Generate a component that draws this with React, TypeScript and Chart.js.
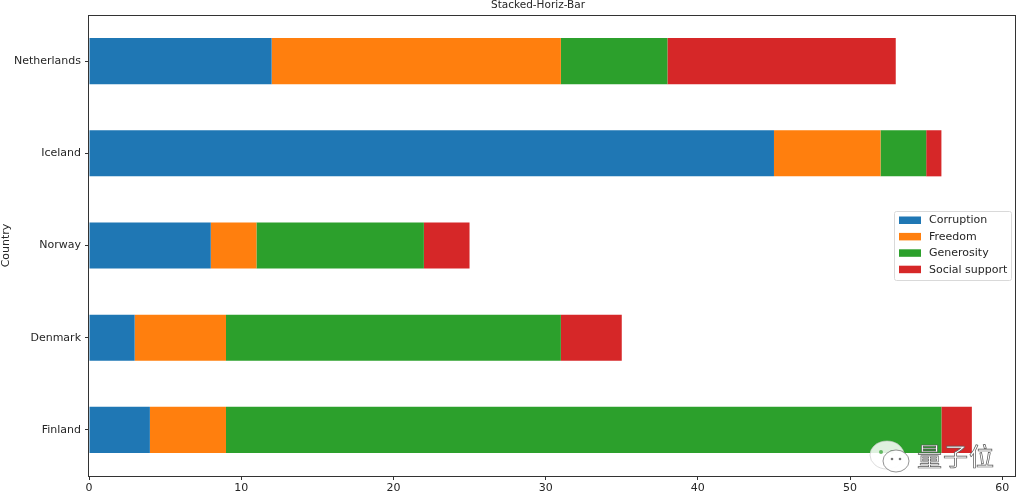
import React, { useEffect, useRef } from "react";
import { Chart, registerables } from "chart.js";

Chart.register(...registerables);

const countries = ["Netherlands", "Iceland", "Norway", "Denmark", "Finland"];
const corruption = [12, 45, 8, 3, 4];
const freedom = [19, 7, 3, 6, 5];
const generosity = [7, 3, 11, 22, 47];
const socialSupport = [15, 1, 3, 4, 2];
const seriesNames = ["Corruption", "Freedom", "Generosity", "Social support"];
const xTicks = [0, 10, 20, 30, 40, 50, 60];
const xMax = 60.9;
const chartTitle = "Stacked-Horiz-Bar";
const yTitle = "Country";

const colors = ["#1f77b4", "#ff7f0e", "#2ca02c", "#d62728"];
const FONT = "'DejaVu Sans', sans-serif";

const framePlugin = {
  id: "frameAndLegend",
  afterDraw(chart: any) {
    const { ctx, chartArea } = chart;
    const { left, right, top, bottom } = chartArea;
    ctx.save();
    // spines
    ctx.strokeStyle = "#333";
    ctx.lineWidth = 1;
    ctx.strokeRect(Math.round(left) - 0.5, Math.round(top) + 0.5, Math.round(right - left), Math.round(bottom - top));
    // title
    ctx.fillStyle = "#262626";
    ctx.font = `10.5px ${FONT}`;
    ctx.textAlign = "center";
    ctx.textBaseline = "alphabetic";
    ctx.fillText(chartTitle, 538, 8);
    // legend
    const bx = 894, by = 211, bw = 117, bh = 69;
    ctx.fillStyle = "rgba(255,255,255,0.85)";
    ctx.strokeStyle = "#d9d9d9";
    ctx.lineWidth = 1;
    ctx.beginPath();
    if ((ctx as any).roundRect) (ctx as any).roundRect(bx + 0.5, by + 0.5, bw, bh, 2);
    else ctx.rect(bx + 0.5, by + 0.5, bw, bh);
    ctx.fill();
    ctx.stroke();
    ctx.font = `11px ${FONT}`;
    ctx.textAlign = "left";
    ctx.textBaseline = "middle";
    chart.data.datasets.forEach((ds: any, i: number) => {
      const cy = 220 + i * 16.4;
      ctx.fillStyle = ds.backgroundColor;
      ctx.fillRect(899, cy - 3.5, 22, 7.5);
      ctx.fillStyle = "#262626";
      ctx.fillText(ds.label, 929, cy + 0.5);
    });
    ctx.restore();
  },
};

export default function App() {
  const ref = useRef<HTMLCanvasElement | null>(null);
  useEffect(() => {
    if (!ref.current) return;
    const values = [corruption, freedom, generosity, socialSupport];
    const chart = new Chart(ref.current, {
      type: "bar",
      data: {
        labels: countries,
        datasets: values.map((v, i) => ({
          label: seriesNames[i],
          data: v,
          backgroundColor: colors[i],
          borderWidth: 0,
          barPercentage: 0.5,
          categoryPercentage: 1.0,
        })),
      },
      options: {
        indexAxis: "y",
        animation: false,
        responsive: true,
        maintainAspectRatio: false,
        layout: { padding: { top: 15, right: 8, left: 0, bottom: 0 } },
        plugins: { legend: { display: false }, title: { display: false }, tooltip: { enabled: false } },
        scales: {
          y: {
            type: "category",
            stacked: true,
            offset: true,
            grid: { drawOnChartArea: false, drawTicks: true, tickLength: 4, color: "#333", offset: false },
            border: { display: false },
            ticks: { color: "#262626", font: { family: FONT, size: 11 }, padding: 4 },
            title: { display: true, text: yTitle, color: "#262626", font: { family: FONT, size: 11 }, padding: { top: 0, bottom: 0 } },
            afterFit: (s: any) => { s.width = 89; },
          },
          x: {
            type: "linear",
            stacked: true,
            min: 0,
            max: xMax,
            grid: { drawOnChartArea: false, drawTicks: true, tickLength: 4, color: "#333" },
            border: { display: false },
            ticks: { color: "#262626", font: { family: FONT, size: 11 }, padding: 2, maxRotation: 0 },
            afterBuildTicks: (s: any) => { s.ticks = xTicks.map((v) => ({ value: v })); },
            afterFit: (s: any) => { s.height = 27; },
          },
        },
      } as any,
      plugins: [framePlugin],
    });
    return () => chart.destroy();
  }, []);
  return (
    <div style={{ position: "absolute", left: 0, top: 0, width: 1024, height: 503, background: "#fff" }}>
      <canvas ref={ref} />
      <svg
        width={45}
        height={36}
        style={{ position: "absolute", left: 867, top: 440, pointerEvents: "none" }}
      >
        <ellipse cx={20} cy={15} rx={17} ry={14} fill="rgba(255,255,255,0.85)" stroke="rgba(200,200,200,0.8)" strokeWidth={0.8} />
        <circle cx={14} cy={12} r={2} fill="#2ca02c" opacity={0.7} />
        <circle cx={25} cy={12} r={2} fill="#2ca02c" opacity={0.7} />
        <ellipse cx={29} cy={21} rx={13} ry={11} fill="rgba(255,255,255,0.95)" stroke="#777" strokeWidth={0.8} />
        <circle cx={25} cy={19} r={1.3} fill="#777" />
        <circle cx={33} cy={19} r={1.3} fill="#777" />
      </svg>
      <div
        style={{
          position: "absolute",
          left: 917,
          top: 437,
          fontFamily: "'Noto Sans CJK SC', sans-serif",
          fontSize: 25,
          color: "#fff",
          WebkitTextStroke: "0.7px #555",
          letterSpacing: 1,
          pointerEvents: "none",
        }}
      >
        量子位
      </div>
    </div>
  );
}
